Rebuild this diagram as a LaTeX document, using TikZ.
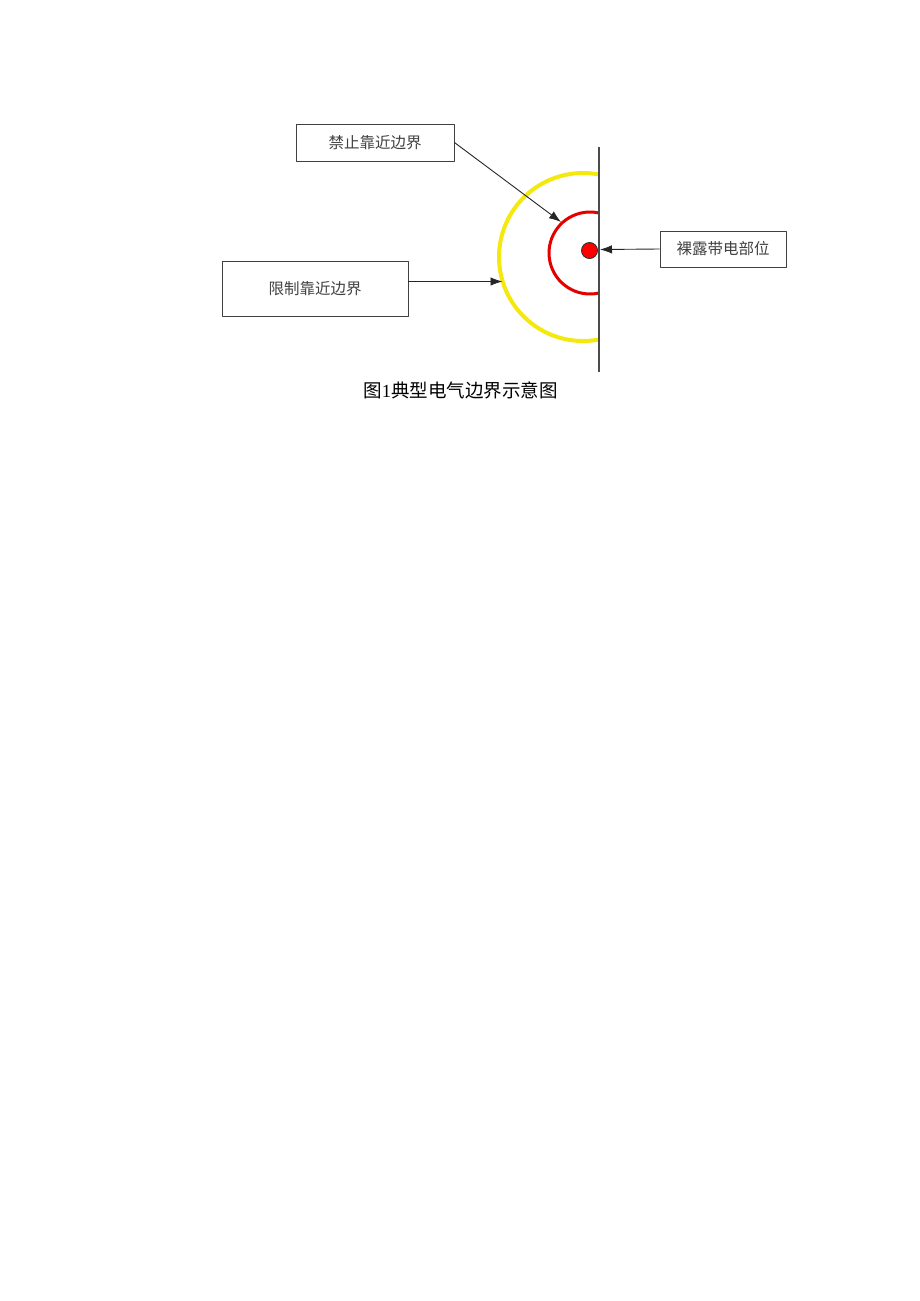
\documentclass[tikz,border=0pt]{standalone}
\usepackage{fontspec}
\setmainfont{Liberation Serif}
\newfontfamily\cjk{Noto Sans CJK SC}
\usetikzlibrary{arrows.meta}
\begin{document}
\begin{tikzpicture}[x=1pt, y=-1pt, line join=round, >={Latex[length=12pt,width=8.5pt]},
    kuang/.style={draw=black!75, line width=0.9pt, inner sep=0pt, font=\cjk\fontsize{15.5}{16}\selectfont, text=black!75},
    jian/.style={->, draw=black!85, line width=0.9pt}]
    \useasboundingbox (0,0) rectangle (920,1301);
    \def\xq{599} \def\yt{147} \def\yd{372} % x cua tuong, y tren, y duoi
    % cac vung bien
    \draw[yellow!95!black, line width=4pt] (583,257) ++(79:84) arc (79:281:84);
    \draw[red!90!black, line width=3pt] (590,253) ++(77:41) arc (77:283:41);
    \draw[black!70, line width=1.2pt] (\xq,\yt) -- (\xq,\yd);
    \node[circle, fill=red, draw=black!80, line width=0.9pt, minimum size=16pt, inner sep=0pt] (dian) at (589.5,250.5) {};
    % cac khung chu
    \node[kuang, minimum width=158pt, minimum height=37pt] (jinzhi) at (375,142.5) {禁止靠近边界};
    \node[kuang, minimum width=186pt, minimum height=55pt] (xianzhi) at (315,288.5) {限制靠近边界};
    \node[kuang, minimum width=126pt, minimum height=36pt] (luolu) at (723,249) {裸露带电部位};
    \coordinate (hong) at (561,222); \coordinate (huang) at (502.5,281.5); \coordinate (qiang) at (600,249.5);
    \draw[jian] (jinzhi.east) -- (hong);
    \draw[jian] (xianzhi.east |- huang) -- (huang);
    \draw[jian] (luolu.west) -- (qiang);
    \node[font=\cjk\fontsize{18.5}{20}\selectfont] (tuming) at (460.5,390) {图{\rmfamily 1}典型电气边界示意图};
\end{tikzpicture}
\end{document}
